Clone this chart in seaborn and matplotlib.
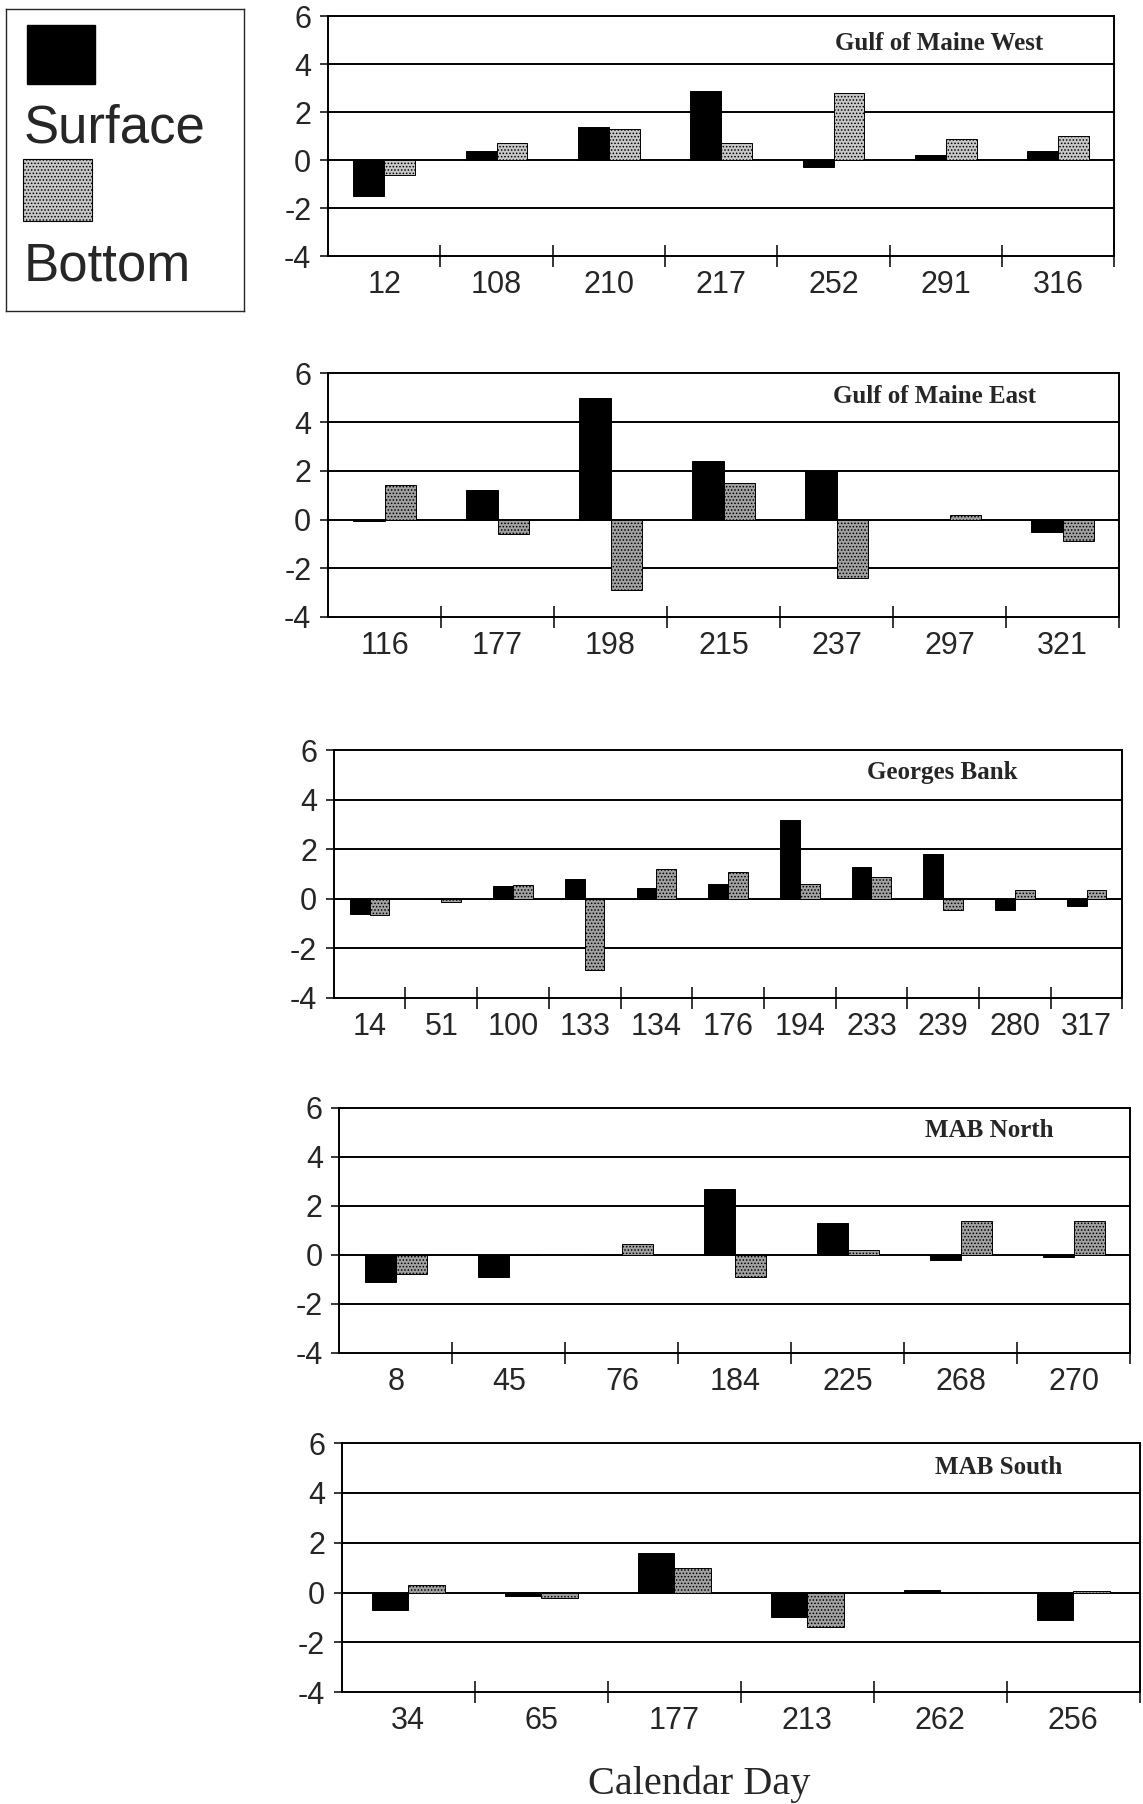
import matplotlib
matplotlib.use("Agg")
import matplotlib.pyplot as plt
import seaborn as sns
import numpy as np
import pandas as pd
from matplotlib.patches import Rectangle

# values (surface / bottom anomalies by calendar day)
gmw_days = ['12', '108', '210', '217', '252', '291', '316']
gmw_surface = [-1.5, 0.4, 1.4, 2.9, -0.3, 0.2, 0.4]
gmw_bottom = [-0.6, 0.7, 1.3, 0.7, 2.8, 0.9, 1.0]

gme_days = ['116', '177', '198', '215', '237', '297', '321']
gme_surface = [-0.05, 1.2, 5.0, 2.4, 2.0, 0.0, -0.5]
gme_bottom = [1.4, -0.6, -2.9, 1.5, -2.4, 0.2, -0.9]

gb_days = ['14', '51', '100', '133', '134', '176', '194', '233', '239', '280', '317']
gb_surface = [-0.6, 0.0, 0.5, 0.8, 0.45, 0.6, 3.2, 1.3, 1.8, -0.45, -0.3]
gb_bottom = [-0.65, -0.15, 0.55, -2.9, 1.2, 1.1, 0.6, 0.9, -0.45, 0.35, 0.35]

mabn_days = ['8', '45', '76', '184', '225', '268', '270']
mabn_surface = [-1.1, -0.9, 0.0, 2.7, 1.3, -0.2, -0.1]
mabn_bottom = [-0.8, 0.0, 0.45, -0.9, 0.2, 1.4, 1.4]

mabs_days = ['34', '65', '177', '213', '262', '256']
mabs_surface = [-0.7, -0.15, 1.6, -1.0, 0.1, -1.1]
mabs_bottom = [0.3, -0.2, 1.0, -1.4, 0.0, 0.05]

panel_titles = ['Gulf of Maine West', 'Gulf of Maine East', 'Georges Bank', 'MAB North', 'MAB South']
panel_data = [
    (gmw_days, gmw_surface, gmw_bottom),
    (gme_days, gme_surface, gme_bottom),
    (gb_days, gb_surface, gb_bottom),
    (mabn_days, mabn_surface, mabn_bottom),
    (mabs_days, mabs_surface, mabs_bottom),
]

# layout (figure fractions), title anchor and bottom-bar shade per panel
panel_rects = [
    [0.287, 0.858, 0.688, 0.133],
    [0.287, 0.658, 0.692, 0.135],
    [0.292, 0.447, 0.690, 0.137],
    [0.297, 0.250, 0.692, 0.136],
    [0.299, 0.062, 0.698, 0.138],
]
title_pos = [(0.777, 0.885), (0.767, 0.906), (0.771, 0.911), (0.822, 0.906), (0.823, 0.903)]
bottom_shade = ['#c8c8c8', '#a2a2a2', '#a2a2a2', '#a2a2a2', '#a2a2a2']

sns.set_style("ticks")
plt.rcParams['font.family'] = ['Liberation Sans', 'DejaVu Sans']
plt.rcParams['axes.unicode_minus'] = False
plt.rcParams['hatch.linewidth'] = 0.7
plt.rcParams['hatch.color'] = '#3a3a3a'


def long_form(days, surface, bottom):
    return pd.DataFrame({
        'day': days * 2,
        'depth': ['Surface'] * len(days) + ['Bottom'] * len(days),
        'diff': surface + bottom,
    })


def draw_panel(ax, title, tpos, shade, days, surface, bottom):
    n = len(days)
    df = long_form(days, surface, bottom)
    for y in (-2, 0, 2, 4):
        ax.axhline(y, color='black', lw=1.4, zorder=0.5)
    sns.barplot(data=df, x='day', y='diff', hue='depth', order=days,
                hue_order=['Surface', 'Bottom'], palette={'Surface': 'black', 'Bottom': shade},
                width=0.55, edgecolor='black', linewidth=0.7, legend=False,
                errorbar=None, ax=ax)
    for bar in ax.containers[1]:
        bar.set_hatch('.....')
    ax.set_ylim(-4, 6)
    ax.set_xlim(-0.5, n - 0.5)
    ax.set_yticks(range(-4, 7, 2))
    ax.tick_params(axis='y', labelsize=22, length=6, width=1.3, pad=6)
    # category boundaries get the tick marks, labels sit at the centres
    ax.set_xticks(np.arange(0.5, n, 1))
    ax.set_xticklabels([])
    ax.set_xticks(np.arange(n), labels=days, minor=True)
    ax.tick_params(axis='x', which='major', direction='inout', length=16, width=1.3)
    ax.tick_params(axis='x', which='minor', length=0, labelsize=22, pad=10)
    ax.set_xlabel('')
    ax.set_ylabel('')
    for side in ax.spines.values():
        side.set_visible(True)
        side.set_color('black')
        side.set_linewidth(1.4)
    ax.text(tpos[0], tpos[1], title, transform=ax.transAxes, ha='center', va='center',
            family='Liberation Serif', weight='bold', fontsize=18)


fig = plt.figure(figsize=(11.43, 18.04), dpi=100)
for rect, title, tpos, shade, (days, surface, bottom) in zip(panel_rects, panel_titles, title_pos,
                                                             bottom_shade, panel_data):
    ax = fig.add_axes(rect)
    draw_panel(ax, title, tpos, shade, days, surface, bottom)

# legend box at top left: swatch above each label
lax = fig.add_axes([6 / 1143, 1 - 311 / 1804, 238 / 1143, 302 / 1804])
lax.set_xlim(0, 1)
lax.set_ylim(0, 1)
lax.set_xticks([])
lax.set_yticks([])
for side in lax.spines.values():
    side.set_linewidth(1.0)
lax.add_patch(Rectangle((0.087, 0.752), 0.285, 0.195, facecolor='black', edgecolor='black'))
lax.text(0.075, 0.603, 'Surface', fontsize=38, va='center', ha='left')
lax.add_patch(Rectangle((0.072, 0.298), 0.29, 0.206, facecolor='#c8c8c8',
                        edgecolor='black', hatch='.....', lw=0.8))
lax.text(0.075, 0.149, 'Bottom', fontsize=38, va='center', ha='left')

fig.text(607 / 993, 1 - 1551 / 1568, 'Calendar Day', ha='center', va='center',
         family='Liberation Serif', fontsize=29)

fig.savefig('out.png', dpi=100)
